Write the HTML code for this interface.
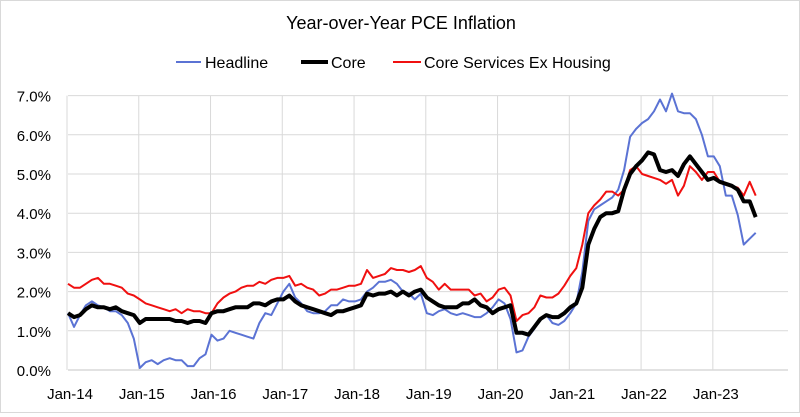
<!DOCTYPE html>
<html><head><meta charset="utf-8"><style>
body{margin:0;background:#fff}
#wrap{position:relative;width:800px;height:413px;box-sizing:border-box;border:1px solid #d9d9d9;font-family:"Liberation Sans",sans-serif;color:#000}
svg text{font-family:"Liberation Sans",sans-serif}
</style></head><body>
<div id="wrap">
<svg id="chart" width="798" height="411">
<text x="400" y="28" text-anchor="middle" font-size="18">Year-over-Year PCE Inflation</text>
<g>
<g><line x1="175" y1="61" x2="200" y2="61" stroke="#5b73d4" stroke-width="2"/><text x="204" y="67" font-size="16">Headline</text></g>
<g><line x1="300" y1="61" x2="327" y2="61" stroke="#000" stroke-width="4"/><text x="330" y="67" font-size="16">Core</text></g>
<g><line x1="392" y1="61" x2="420" y2="61" stroke="#f01010" stroke-width="2"/><text x="423" y="67" font-size="16">Core Services Ex Housing</text></g>
</g>
<g id="grid"></g><g id="axes"></g><g id="series"></g>
</svg>
</div>
<script>
const xTickLabels=["Jan-14","Jan-15","Jan-16","Jan-17","Jan-18","Jan-19","Jan-20","Jan-21","Jan-22","Jan-23"];
const yTickLabels=["0.0%","1.0%","2.0%","3.0%","4.0%","5.0%","6.0%","7.0%"];
const yTicks=[0,1,2,3,4,5,6,7];
const headline=[1.45,1.1,1.4,1.65,1.75,1.65,1.6,1.5,1.5,1.4,1.2,0.8,
0.05,0.2,0.25,0.15,0.25,0.3,0.25,0.25,0.1,0.1,0.3,0.4,
0.9,0.75,0.8,1.0,0.95,0.9,0.85,0.8,1.2,1.45,1.4,1.7,
2.0,2.2,1.85,1.7,1.5,1.45,1.45,1.5,1.65,1.65,1.8,1.75,
1.75,1.8,2.0,2.1,2.25,2.25,2.3,2.2,2.0,1.95,1.8,1.95,
1.45,1.4,1.5,1.55,1.45,1.4,1.45,1.4,1.35,1.35,1.45,1.6,
1.8,1.7,1.3,0.45,0.5,0.85,1.05,1.3,1.4,1.2,1.15,1.25,
1.45,1.7,2.5,3.8,4.1,4.2,4.3,4.4,4.6,5.1,5.95,6.15,
6.3,6.4,6.6,6.9,6.6,7.05,6.6,6.55,6.55,6.4,6.0,5.45,
5.45,5.2,4.45,4.45,3.95,3.2,3.35,3.5];
const core=[1.45,1.35,1.4,1.55,1.65,1.6,1.6,1.55,1.6,1.5,1.45,1.4,
1.2,1.3,1.3,1.3,1.3,1.3,1.25,1.25,1.2,1.25,1.25,1.2,
1.45,1.5,1.5,1.55,1.6,1.6,1.6,1.7,1.7,1.65,1.75,1.8,
1.8,1.9,1.75,1.65,1.6,1.55,1.5,1.45,1.4,1.5,1.5,1.55,
1.6,1.65,1.95,1.9,1.95,1.95,2.0,1.9,2.0,1.9,2.0,2.05,
1.85,1.75,1.65,1.6,1.6,1.6,1.7,1.7,1.8,1.65,1.6,1.45,
1.55,1.6,1.65,0.95,0.95,0.9,1.1,1.3,1.4,1.35,1.35,1.45,
1.6,1.7,2.1,3.2,3.6,3.9,4.0,4.0,4.05,4.6,5.0,5.2,
5.35,5.55,5.5,5.1,5.05,5.1,4.95,5.25,5.45,5.25,5.05,4.85,
4.9,4.8,4.75,4.7,4.6,4.3,4.3,3.9];
const coreServices=[2.2,2.1,2.1,2.2,2.3,2.35,2.2,2.2,2.15,2.1,1.95,1.9,
1.8,1.7,1.65,1.6,1.55,1.5,1.55,1.45,1.55,1.5,1.5,1.45,
1.45,1.7,1.85,1.95,2.0,2.1,2.15,2.15,2.25,2.2,2.3,2.35,
2.35,2.4,2.15,2.2,2.1,2.05,1.9,1.95,2.05,2.05,2.1,2.15,
2.15,2.2,2.55,2.35,2.4,2.45,2.6,2.55,2.55,2.5,2.55,2.65,
2.35,2.25,2.05,2.2,2.05,2.05,2.05,2.05,1.9,1.95,1.75,1.85,
2.05,2.1,1.9,1.25,1.4,1.45,1.6,1.9,1.85,1.85,1.95,2.15,
2.4,2.6,3.2,4.0,4.2,4.35,4.55,4.55,4.45,4.6,5.1,5.2,
5.0,4.95,4.9,4.85,4.75,4.85,4.45,4.7,5.2,5.05,4.85,5.05,
5.05,4.8,4.75,4.7,4.65,4.45,4.8,4.45];
const NS='http://www.w3.org/2000/svg';
const X0=67,MONTH=5.98,Y0=369,YPER=39.2;
function xPos(i){return X0+i*MONTH;}
function yPos(v){return Y0-v*YPER;}
function mk(tag,attrs,parent){const e=document.createElementNS(NS,tag);for(const k in attrs)e.setAttribute(k,attrs[k]);parent.appendChild(e);return e;}
const grid=document.getElementById('grid'),axes=document.getElementById('axes'),ser=document.getElementById('series');
yTicks.forEach((t,i)=>{
 if(t>0){const l=mk('line',{x1:X0,x2:787,y1:yPos(t),y2:yPos(t),stroke:'#d9d9d9','stroke-width':1},grid);
 
 }
 const tx=mk('text',{x:50,y:yPos(t)+6,'text-anchor':'end','font-size':15},axes);tx.textContent=yTickLabels[i];
 
 
});
xTickLabels.forEach((lab,i)=>{
 const x=xPos(i*12)-1;
 const l=mk('line',{x1:x,x2:x,y1:yPos(7),y2:Y0,stroke:'#d9d9d9','stroke-width':1},grid);
 
 
 const tx=mk('text',{x:x+3,y:398,'text-anchor':'middle','font-size':15},axes);tx.textContent=lab;
 
 
});
const ax=mk('line',{x1:X0,x2:787,y1:Y0,y2:Y0,stroke:'#d9d9d9','stroke-width':1.5},axes);


function line(data,color,w,name){
 const p=mk('polyline',{points:data.map((v,i)=>xPos(i).toFixed(1)+','+yPos(v).toFixed(1)).join(' '),fill:'none',stroke:color,'stroke-width':w,'stroke-linejoin':'round'},ser);
 
 
}
line(headline,'#5b73d4',2,'headline-line');
line(coreServices,'#f01010',2,'core-services-ex-housing-line');
line(core,'#000',4,'core-line');
</script>
</body></html>
